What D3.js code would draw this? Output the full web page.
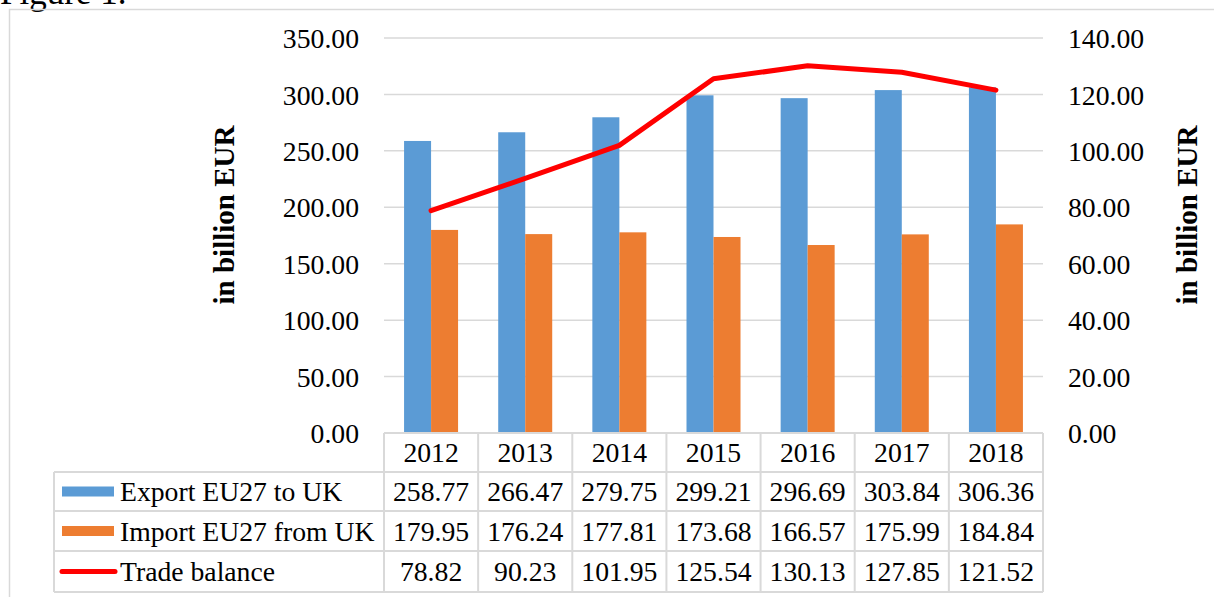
<!DOCTYPE html>
<html lang="en">
<head>
  <meta charset="utf-8">
  <title>EU27 - UK trade</title>
  <script type="text/javascript" src="https://cdn.jsdelivr.net/npm/d3@7"></script>
  <style>
    body { margin: 0; background: #fff; }
    text { font-family: "Liberation Serif", "Times New Roman", serif; fill: #000; }
  </style>
</head>
<body>
  <script type="text/javascript">

  // donnees
  var years = ["2012", "2013", "2014", "2015", "2016", "2017", "2018"];
  var exportUK = [258.77, 266.47, 279.75, 299.21, 296.69, 303.84, 306.36];
  var importUK = [179.95, 176.24, 177.81, 173.68, 166.57, 175.99, 184.84];
  var balance = [78.82, 90.23, 101.95, 125.54, 130.13, 127.85, 121.52];
  var leftTicks = [0, 50, 100, 150, 200, 250, 300, 350];
  var rightTicks = [0, 20, 40, 60, 80, 100, 120, 140];
  var seriesNames = ["Export EU27 to UK", "Import EU27 from UK", "Trade balance"];

  var width = 1214, height = 597;
  var grid = "#d9d9d9";
  var blue = "#5b9bd5", orange = "#ed7d31", red = "#ff0000";
  var fs = 27.7;

  var svg = d3.select("body").append("svg")
    .attr("width", width)
    .attr("height", height);

  // titre coupe en haut (comme sur l'original)
  svg.append("text")
    .attr("x", 0).attr("y", 4)
    .attr("font-size", 35)
    .text("Figure 1.");

  // cadre du graphique
  svg.append("rect")
    .attr("x", 9.5).attr("y", 9.5)
    .attr("width", 1220).attr("height", 600)
    .attr("fill", "none")
    .attr("stroke", grid)
    .attr("stroke-width", 1.5);

  var x = d3.scaleBand().domain(years).range([384, 1043]);
  var yL = d3.scaleLinear().domain([0, 350]).range([433, 38]);
  var yR = d3.scaleLinear().domain([0, 140]).range([433, 38]);

  // grille
  svg.append("g")
    .selectAll("line")
    .data(leftTicks)
    .enter().append("line")
    .attr("x1", 384).attr("x2", 1043)
    .attr("y1", d => yL(d)).attr("y2", d => yL(d))
    .attr("stroke", grid)
    .attr("stroke-width", 1.5);

  // axes
  var axL = svg.append("g")
    .attr("transform", "translate(384,0)")
    .call(d3.axisLeft(yL).tickValues(leftTicks).tickFormat(d3.format(".2f")).tickSize(0).tickPadding(25));
  axL.select(".domain").remove();
  axL.selectAll("text").attr("font-size", fs).attr("font-family", null).attr("dy", "0.35em");

  var axR = svg.append("g")
    .attr("transform", "translate(1043,0)")
    .call(d3.axisRight(yR).tickValues(rightTicks).tickFormat(d3.format(".2f")).tickSize(0).tickPadding(25));
  axR.select(".domain").remove();
  axR.selectAll("text").attr("font-size", fs).attr("font-family", null).attr("dy", "0.35em");

  // titres des axes
  svg.append("text")
    .attr("transform", "translate(234,215) rotate(-90)")
    .attr("text-anchor", "middle")
    .attr("font-size", 29)
    .attr("font-weight", "bold")
    .text("in billion EUR");

  svg.append("text")
    .attr("transform", "translate(1197,215) rotate(-90)")
    .attr("text-anchor", "middle")
    .attr("font-size", 29)
    .attr("font-weight", "bold")
    .text("in billion EUR");

  // barres
  var bw = 27;
  svg.append("g")
    .selectAll("rect")
    .data(exportUK)
    .enter().append("rect")
    .attr("x", (d, i) => x(years[i]) + x.bandwidth() / 2 - bw)
    .attr("y", d => yL(d))
    .attr("width", bw)
    .attr("height", d => yL(0) - yL(d))
    .attr("fill", blue);

  svg.append("g")
    .selectAll("rect")
    .data(importUK)
    .enter().append("rect")
    .attr("x", (d, i) => x(years[i]) + x.bandwidth() / 2)
    .attr("y", d => yL(d))
    .attr("width", bw)
    .attr("height", d => yL(0) - yL(d))
    .attr("fill", orange);

  // ligne solde
  var line = d3.line()
    .x((d, i) => x(years[i]) + x.bandwidth() / 2)
    .y(d => yR(d));

  svg.append("path")
    .datum(balance)
    .attr("d", line)
    .attr("fill", "none")
    .attr("stroke", red)
    .attr("stroke-width", 5)
    .attr("stroke-linecap", "round")
    .attr("stroke-linejoin", "round");

  // tableau de donnees
  var rows = [433, 472, 511, 551, 592];
  var table = svg.append("g")
    .attr("stroke", grid)
    .attr("stroke-width", 2)
    .attr("fill", "none");

  // lignes horizontales
  table.append("line").attr("x1", 384).attr("x2", 1043).attr("y1", rows[0]).attr("y2", rows[0]);
  rows.slice(1).forEach(function(r) {
    table.append("line").attr("x1", 54).attr("x2", 1043).attr("y1", r).attr("y2", r);
  });
  // lignes verticales
  table.append("line").attr("x1", 54).attr("x2", 54).attr("y1", rows[1]).attr("y2", rows[4]);
  years.forEach(function(y) {
    table.append("line").attr("x1", x(y)).attr("x2", x(y)).attr("y1", rows[0]).attr("y2", rows[4]);
  });
  table.append("line").attr("x1", 1043).attr("x2", 1043).attr("y1", rows[0]).attr("y2", rows[4]);

  // annees
  svg.append("g")
    .selectAll("text")
    .data(years)
    .enter().append("text")
    .attr("x", d => x(d) + x.bandwidth() / 2)
    .attr("y", (rows[0] + rows[1]) / 2)
    .attr("dy", "0.35em")
    .attr("text-anchor", "middle")
    .attr("font-size", fs)
    .text(d => d);

  var tableData = [exportUK, importUK, balance];
  tableData.forEach(function(vals, r) {
    var cy = (rows[r + 1] + rows[r + 2]) / 2;
    svg.append("g")
      .selectAll("text")
      .data(vals)
      .enter().append("text")
      .attr("x", (d, i) => x(years[i]) + x.bandwidth() / 2)
      .attr("y", cy)
      .attr("dy", "0.35em")
      .attr("text-anchor", "middle")
      .attr("font-size", fs)
      .text(d => d3.format(".2f")(d));

    svg.append("text")
      .attr("x", 120)
      .attr("y", cy)
      .attr("dy", "0.35em")
      .attr("font-size", fs)
      .text(seriesNames[r]);

    // cles de legende
    if (r < 2) {
      svg.append("rect")
        .attr("x", 62).attr("y", cy - 5)
        .attr("width", 52).attr("height", 10)
        .attr("fill", r == 0 ? blue : orange);
    } else {
      svg.append("line")
        .attr("x1", 62).attr("x2", 115)
        .attr("y1", cy).attr("y2", cy)
        .attr("stroke", red)
        .attr("stroke-width", 5)
        .attr("stroke-linecap", "round");
    }
  });

  </script>
</body>
</html>
